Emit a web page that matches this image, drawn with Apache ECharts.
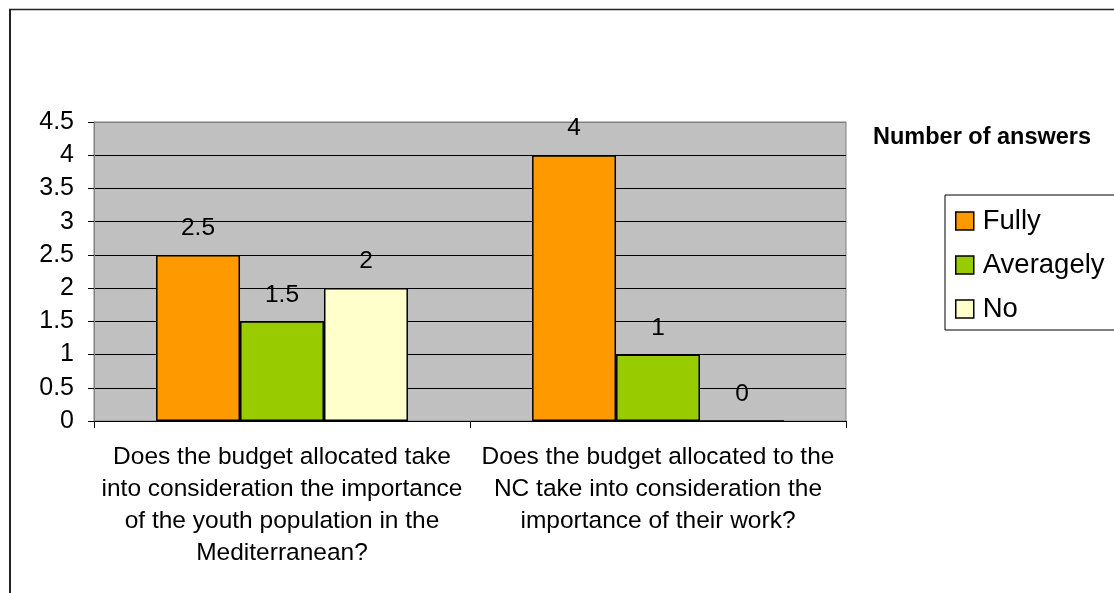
<!DOCTYPE html>
<html>
<head>
<meta charset="utf-8">
<script src="https://cdn.jsdelivr.net/npm/echarts@6/dist/echarts.min.js"></script>
<style>
  html, body { margin: 0; padding: 0; background: #ffffff; }
  #chart { width: 1114px; height: 593px; }
</style>
</head>
<body>
<div id="chart"></div>
<script>
// Survey questions (category axis), wrapped the way they are printed under the bars
const categories = [
  'Does the budget allocated take\ninto consideration the importance\nof the youth population in the\nMediterranean?',
  'Does the budget allocated to the\nNC take into consideration the\nimportance of their work?'
];

// Number of answers per response option
const seriesNames = ['Fully', 'Averagely', 'No'];
const fully = [2.5, 4];
const averagely = [1.5, 1];
const no = [2, 0];

const chartTitle = 'Number of answers';

const FONT = '"Liberation Sans", Arial, Helvetica, sans-serif';
const colors = ['#FF9900', '#99CC00', '#FFFFCC'];

const chart = echarts.init(document.getElementById('chart'), null, { renderer: 'canvas' });

function barSeries(name, data, color) {
  return {
    name: name,
    type: 'bar',
    data: data,
    barGap: '0%',
    barCategoryGap: '33%',
    itemStyle: { color: color, borderColor: '#000000', borderWidth: 1.5 },
    label: {
      show: true,
      position: 'top',
      distance: 14,
      color: '#000000',
      fontFamily: FONT,
      fontSize: 24.5
    },
    emphasis: { disabled: true }
  };
}

const option = {
  backgroundColor: '#ffffff',
  animation: false,
  color: colors,
  title: {
    text: chartTitle,
    left: 873,
    top: 126,
    padding: 0,
    textStyle: { fontFamily: FONT, fontSize: 23.5, fontWeight: 'bold', color: '#000000' }
  },
  legend: {
    orient: 'vertical',
    left: 945,
    top: 195,
    data: seriesNames,
    icon: 'rect',
    itemWidth: 18,
    itemHeight: 18,
    itemGap: 14,
    padding: [11, 30, 6, 10],
    borderColor: '#000000',
    borderWidth: 1,
    backgroundColor: '#ffffff',
    itemStyle: { borderColor: '#000000', borderWidth: 1.5 },
    textStyle: { fontFamily: FONT, fontSize: 27.5, color: '#000000', lineHeight: 30, padding: [0, 0, 0, 4] },
    selectedMode: false
  },
  grid: {
    left: 94,
    top: 122,
    right: 268,
    bottom: 172,
    show: true,
    backgroundColor: '#C0C0C0',
    borderColor: '#808080',
    borderWidth: 1,
    containLabel: false
  },
  xAxis: {
    type: 'category',
    data: categories,
    axisLine: { show: true, lineStyle: { color: '#000000', width: 1 } },
    axisTick: { show: true, length: 7, lineStyle: { color: '#000000' } },
    axisLabel: {
      interval: 0,
      margin: 20,
      fontFamily: FONT,
      fontSize: 24.5,
      lineHeight: 32,
      color: '#000000',
      align: 'center'
    },
    splitLine: { show: false }
  },
  yAxis: {
    type: 'value',
    min: 0,
    max: 4.5,
    interval: 0.5,
    axisLine: { show: true, lineStyle: { color: '#808080', width: 1 } },
    axisTick: { show: true, length: 6, lineStyle: { color: '#000000' } },
    axisLabel: {
      margin: 20,
      fontFamily: FONT,
      fontSize: 25,
      color: '#000000'
    },
    splitLine: {
      show: true,
      lineStyle: {
        color: ['#000000', '#000000', '#000000', '#000000', '#000000',
                '#000000', '#000000', '#000000', '#000000', '#808080'],
        width: 1
      }
    }
  },
  series: [
    barSeries(seriesNames[0], fully, colors[0]),
    barSeries(seriesNames[1], averagely, colors[1]),
    barSeries(seriesNames[2], no, colors[2])
  ],
  graphic: [
    // chart-area frame: left and top edges
    { type: 'line', shape: { x1: 10, y1: 9, x2: 10, y2: 600 }, style: { stroke: '#222222', lineWidth: 2 }, silent: true },
    { type: 'line', shape: { x1: 9, y1: 9.5, x2: 1120, y2: 9.5 }, style: { stroke: '#222222', lineWidth: 1.5 }, silent: true }
  ]
};

chart.setOption(option);
</script>
</body>
</html>
